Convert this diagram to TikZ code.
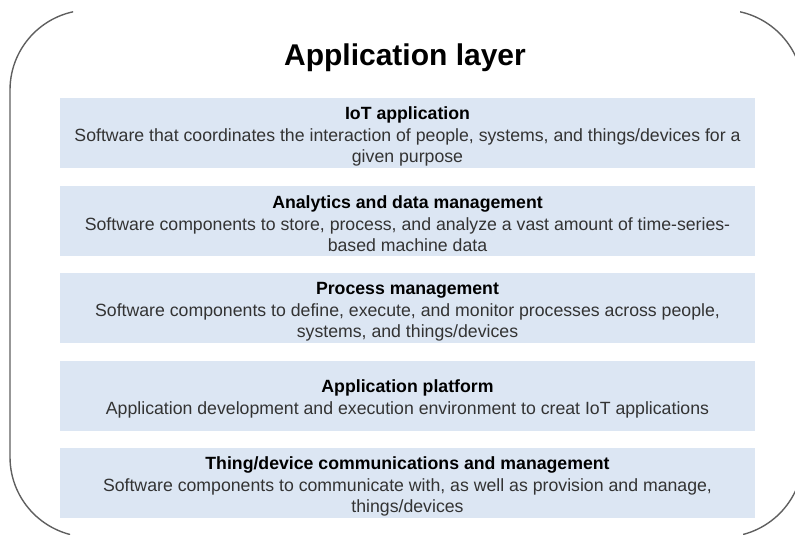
\documentclass[tikz,border=0pt]{standalone}
\usepackage{fontspec}
\setmainfont{Liberation Sans}
\definecolor{layerblue}{RGB}{220,230,243}
\definecolor{framegray}{RGB}{95,95,95}
\newcommand{\layerhead}[1]{\rule{0pt}{20pt}\textcolor{black}{\bfseries #1}}

\begin{document}
\begin{tikzpicture}[x=1pt,y=-1pt,
        layerbox/.style={fill=layerblue,minimum width=695pt,minimum height=70pt,inner sep=0pt,
            align=center,text=black!80,font=\fontsize{17.7}{21.5}\selectfont}]
        \useasboundingbox (0,0) rectangle (795,535);
        
        % outer frame, only corners and left side show
        \begin{scope}
            \clip (0,0)--(73,0)--(73,25)--(740,25)--(740,0)--(795,0)--(795,535)--(743,535)--(743,515)--(70,515)--(70,535)--(0,535)--cycle;
            \draw[framegray,line width=1.4pt,rounded corners=80pt](10,10) rectangle (803,537);
        \end{scope}
        
        \node[anchor=base,font=\bfseries\fontsize{30}{36}\selectfont](title) at (405,66){Application layer};
        
        \node[layerbox](iot) at (407.5,133){\layerhead{IoT application}\\
            Software that coordinates the interaction of people, systems, and things/devices for a\\given purpose};
        \node[layerbox](analytics) at (407.5,220.5){\layerhead{Analytics and data management}\\
            Software components to store, process, and analyze a vast amount of time-series-\\based machine data};
        \node[layerbox](process) at (407.5,308){\layerhead{Process management}\\
            Software components to define, execute, and monitor processes across people,\\systems, and things/devices};
        \node[layerbox](platform) at (407.5,395.5){\layerhead{Application platform}\\
            Application development and execution environment to creat IoT applications};
        \node[layerbox](things) at (407.5,483){\layerhead{Thing/device communications and management}\\
            Software components to communicate with, as well as provision and manage,\\things/devices};
    \end{tikzpicture}
\end{document}
